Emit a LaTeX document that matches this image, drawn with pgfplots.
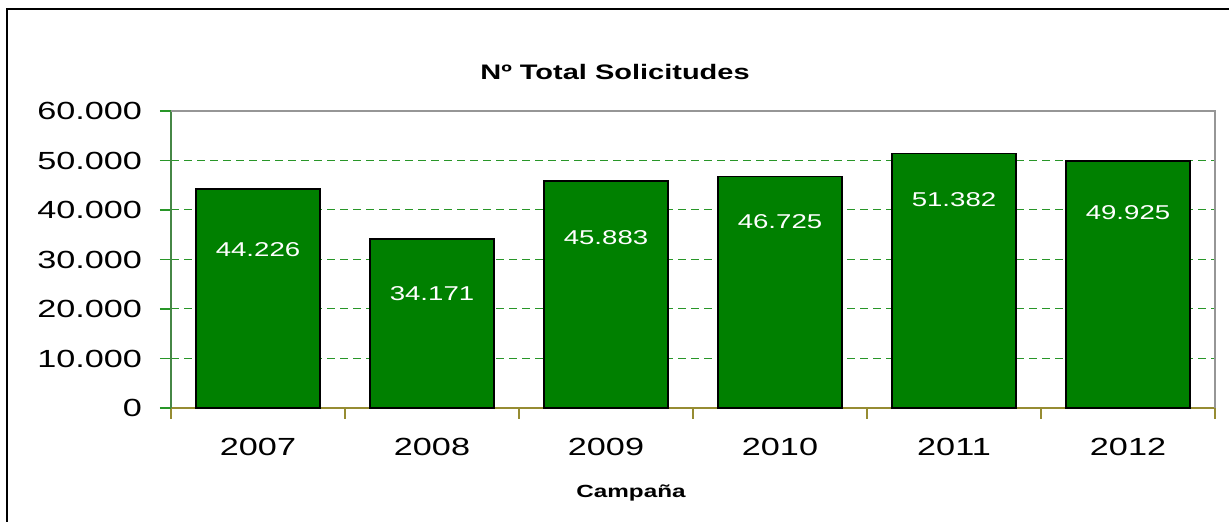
\documentclass[border=0pt]{standalone}
\usepackage{fontspec}
\setmainfont{Liberation Sans}[FakeStretch=1.38]
\usepackage{pgfplots}
\pgfplotsset{compat=1.18}
\definecolor{barfill}{RGB}{0,128,0}
\definecolor{gridc}{RGB}{40,150,40}
\definecolor{yaxisc}{RGB}{70,135,70}
\definecolor{xaxisc}{RGB}{150,140,50}
\definecolor{boxc}{RGB}{150,150,150}
\begin{document}
\begin{tikzpicture}
\useasboundingbox (-85.5pt,-57pt) rectangle (529pt,204pt);
\draw[line width=1.4pt] (-82pt,-80pt) -- (-82pt,199.5pt) -- (560pt,199.5pt);
\begin{axis}[
    at={(0,0)}, anchor=south west,
    scale only axis,
    width=522pt, height=148.5pt,
    xmin=-0.5, xmax=5.5,
    ymin=0, ymax=60000,
    axis x line*=bottom,
    axis y line*=left,
    x axis line style={draw=xaxisc, line width=0.6pt},
    y axis line style={draw=yaxisc, line width=0.6pt},
    ytick={0,10000,...,60000},
    ytick style={draw=gridc, line width=0.6pt},
    xtick={-0.5,0.5,...,5.5},
    xticklabels={},
    xtick style={draw=xaxisc, line width=0.6pt},
    extra x ticks={0,1,2,3,4,5},
    extra x tick labels={2007,2008,2009,2010,2011,2012},
    extra x tick style={major tick length=0pt,
        tick label style={yshift=-11.5pt}},
    tick align=outside,
    major tick length=5.5pt,
    ymajorgrids,
    y grid style={draw=gridc, dash pattern=on 4pt off 2.5pt, line width=0.5pt},
    scaled y ticks=false,
    /pgf/number format/.cd, fixed, 1000 sep={.}, assume math mode=true,
    /pgfplots/.cd,
    ticklabel style={font=\fontsize{12.4}{14}\selectfont},
    yticklabel style={xshift=-5.5pt},
    clip=false,
]
\addplot[ybar, bar width=62pt, fill=barfill, draw=black, line width=0.7pt]
    coordinates {(0,44226) (1,34171) (2,45883) (3,46725) (4,51382) (5,49925)};
\addplot[only marks, mark=none, point meta=explicit symbolic,
    nodes near coords,
    every node near coord/.append style={anchor=center, text=white,
        font=\fontsize{10}{12}\selectfont}]
    coordinates {(0,31919)[44.226] (1,23030)[34.171] (2,34343)[45.883]
                 (3,37576)[46.725] (4,42020)[51.382] (5,39394)[49.925]};
\draw[boxc, line width=0.6pt] (rel axis cs:0,1) -- (rel axis cs:1,1) -- (rel axis cs:1,0);
\end{axis}
\node[font=\fontsize{10.5}{12}\selectfont\bfseries] at (222pt,168pt) {Nº Total Solicitudes};
\node[font=\fontsize{8.8}{12}\selectfont\bfseries] at (230pt,-42.5pt) {Campaña};
\end{tikzpicture}
\end{document}
